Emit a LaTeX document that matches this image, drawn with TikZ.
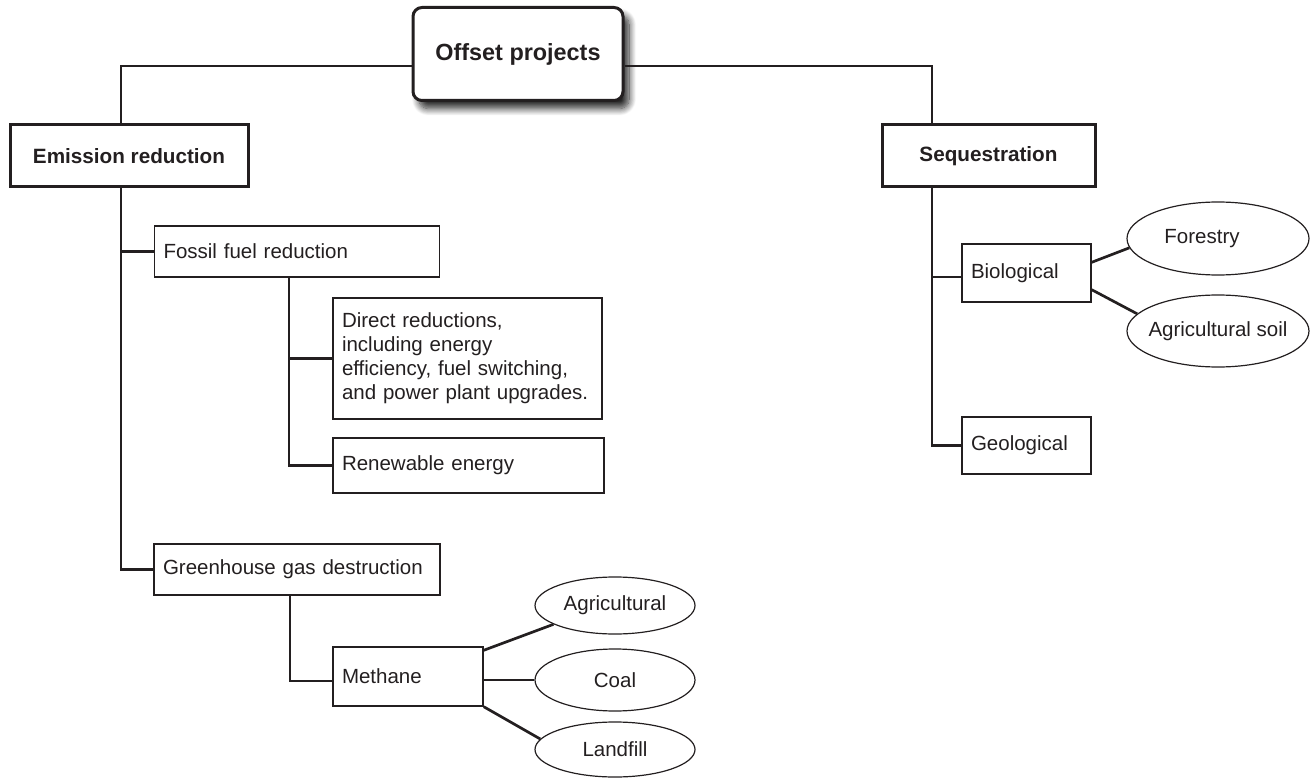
\documentclass[tikz,border=0pt]{standalone}
\usepackage{fontspec}
\setmainfont{Liberation Sans}
\usetikzlibrary{shapes.geometric,shadows.blur}
\definecolor{ink}{HTML}{231F20}
\begin{document}
\begin{tikzpicture}[x=1pt,y=-1pt,
  every node/.style={text=ink},
  lbox/.style={draw=ink, line width=1.4pt, rectangle, inner xsep=9pt, inner ysep=0pt, align=left, font=\fontsize{20.5}{24}\selectfont},
  hbox/.style={draw=ink, line width=3pt, rectangle, align=center, font=\bfseries\fontsize{20.7}{24}\selectfont},
  oval/.style={draw=ink, line width=1.2pt, ellipse, inner sep=0pt, font=\fontsize{20.5}{24}\selectfont},
  conn/.style={draw=ink, line width=2.7pt},
  tconn/.style={draw=ink, line width=2.2pt}]
\useasboundingbox (0,0) rectangle (1315,778);

\node[draw=ink, line width=3pt, rounded corners=9pt, fill=white, minimum width=210pt, minimum height=93pt,
  font=\bfseries\fontsize{23.4}{28}\selectfont,
  blur shadow={shadow xshift=6pt, shadow yshift=-8pt, shadow blur radius=7pt, shadow blur steps=12, shadow opacity=85}]
  (offset) at (518,54) {Offset projects};

\node[hbox, minimum width=238pt, minimum height=62pt] (emission) at (129,156) {Emission reduction};
\node[hbox, minimum width=213pt, minimum height=62pt] (seq) at (988.5,156) {Sequestration};

\node[lbox, minimum width=285pt, minimum height=51pt, text width=267pt] (fossil) at (297,251.5) {Fossil fuel reduction};
\node[lbox, minimum width=269pt, minimum height=121pt, text width=251pt] (direct) at (467.5,358.5)
  {Direct reductions,\\including energy\\efficiency, fuel switching,\\and power plant upgrades.};
\node[lbox, minimum width=271pt, minimum height=55pt, text width=253pt] (renewable) at (468.5,465.5) {Renewable energy};
\node[lbox, minimum width=286pt, minimum height=51pt, text width=268pt] (ghg) at (297,569.5) {Greenhouse gas destruction};
\node[lbox, minimum width=150pt, minimum height=59pt, text width=132pt] (methane) at (408,676.5) {Methane};
\node[lbox, minimum width=129pt, minimum height=58pt, text width=111pt] (bio) at (1026.5,273) {Biological};
\node[lbox, minimum width=129pt, minimum height=57pt, text width=111pt] (geo) at (1026.5,445.5) {Geological};

\node[oval, minimum width=160pt, minimum height=57pt] (agri) at (615,605.5) {\makebox[0pt][c]{Agricultural}};
\node[oval, minimum width=160pt, minimum height=62pt] (coal) at (615,680) {\makebox[0pt][c]{Coal}};
\node[oval, minimum width=160pt, minimum height=55pt] (landfill) at (615,749.5) {\makebox[0pt][c]{Landfill}};
\node[oval, minimum width=182pt, minimum height=73pt] (forestry) at (1218,238.5) {\makebox[0pt][c]{\hspace*{-32pt}Forestry}};
\node[oval, minimum width=182pt, minimum height=72pt] (agsoil) at (1218,331) {\makebox[0pt][c]{Agricultural soil}};

% top connectors
\draw[tconn] ([yshift=-12pt]offset.west) -| ([xshift=-8pt]emission.north);
\draw[tconn] ([yshift=-12pt]offset.east) -| ([xshift=-56.5pt]seq.north);

% emission trunk
\coordinate (etrunk) at ([xshift=-8pt]emission.south);
\draw[conn] (etrunk) |- (ghg.west);
\draw[conn] (etrunk |- fossil.west) -- (fossil.west);

% fossil sub-trunk
\coordinate (ftrunk) at ([xshift=-8pt]fossil.south);
\draw[conn] (ftrunk) |- (renewable.west);
\draw[conn] (ftrunk |- direct.west) -- (direct.west);

% ghg sub-trunk
\draw[conn] ([xshift=-7pt]ghg.south) |- ([yshift=-4.5pt]methane.west);

% sequestration trunk
\coordinate (strunk) at ([xshift=-56.5pt]seq.south);
\coordinate (bioW) at ([yshift=-4pt]bio.west);
\draw[conn] (strunk) |- (geo.west);
\draw[conn] (strunk |- bioW) -- (bioW);

% methane to ellipses
\draw[conn] ([yshift=-4pt]methane.north east) -- (agri.197);
\draw[conn] (methane.east |- coal.west) -- (coal.west);
\draw[conn] (methane.south east) -- (landfill.172);

% biological to ellipses
\draw[conn] ([yshift=-19pt]bio.north east) -- (forestry.186);
\draw[conn] ([yshift=13pt]bio.south east) -- (agsoil.168);
\end{tikzpicture}
\end{document}
